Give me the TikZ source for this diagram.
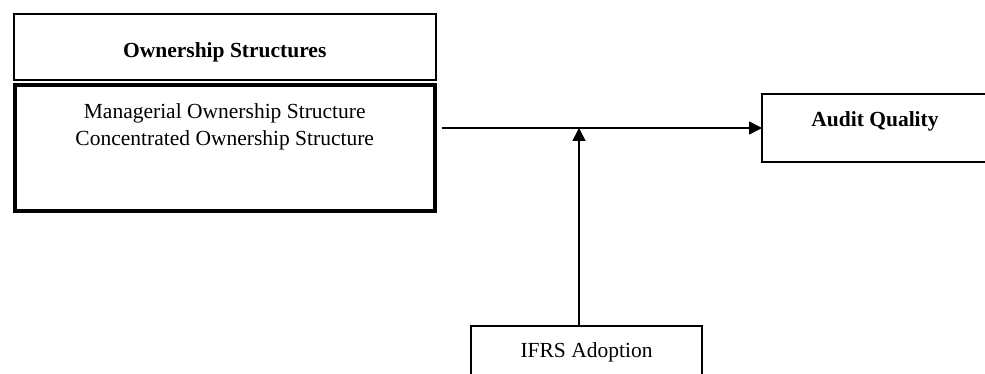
\documentclass[tikz,border=0pt]{standalone}
\usepackage{fontspec}
\setmainfont{Liberation Serif}
\usetikzlibrary{arrows.meta, positioning}

\begin{document}
\begin{tikzpicture}[x=1pt,y=-1pt,
    font=\fontsize{21.5}{27}\selectfont,
    box/.style={draw, line width=2pt, inner sep=0pt, outer sep=0pt},
    thickbox/.style={draw, line width=4.5pt, inner sep=0pt, outer sep=0pt},
    link/.style={-{Triangle[length=13pt,width=13pt]}, line width=1.6pt}]
  \useasboundingbox (0,0) rectangle (985,374);
  \clip (0,0) rectangle (985,374);

  \node[box, minimum width=421.5pt, minimum height=66pt, text height=26pt, text depth=5pt] (own) at (224.75,47) {\bfseries Ownership Structures};
  \node[thickbox, minimum width=420pt, minimum height=126pt] (ownbox) [below=5pt of own] {};
  \node[align=center, inner sep=0pt] (ownlist) [below=18pt of ownbox.north]
    {Managerial Ownership Structure\\Concentrated Ownership Structure};
  \node[box, minimum width=226pt, minimum height=68pt, text depth=17pt] (aq) at (875,128) {\bfseries Audit Quality};
  \node[box, minimum width=231pt, minimum height=52pt] (ifrs) at (586.5,352) {IFRS Adoption};
  \coordinate (join) at (579,128);

  \draw[link] ([xshift=7pt]ownbox.east |- aq.west) -- (aq.west);
  \draw[link] (join |- ifrs.north) -- (join);
\end{tikzpicture}
\end{document}
